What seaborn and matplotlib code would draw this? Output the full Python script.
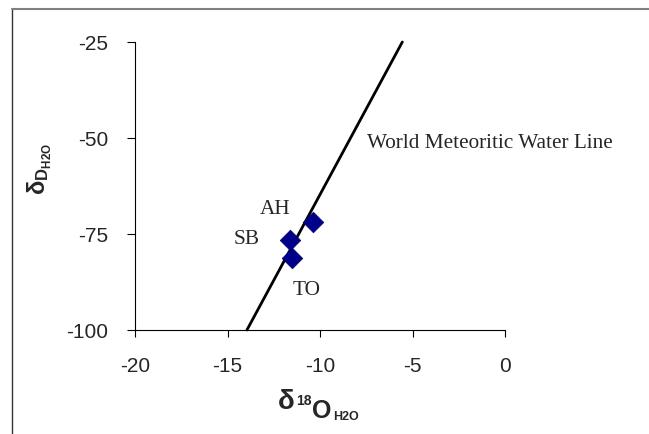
import matplotlib
matplotlib.use("Agg")
import matplotlib.pyplot as plt
import seaborn as sns
import pandas as pd
from matplotlib.lines import Line2D

sites = ["AH", "SB", "TO"]
d18O = [-10.38, -11.62, -11.51]
dD = [-71.9, -76.6, -81.3]
wmwl_x = [-13.95, -5.55]
wmwl_y = [-100, -25]
xticks = [-20, -15, -10, -5, 0]
yticks = [-100, -75, -50, -25]

sns.set_theme(style="white")
plt.rcParams['font.family'] = ['Liberation Sans', 'DejaVu Sans']
plt.rcParams['mathtext.fontset'] = 'custom'
plt.rcParams['mathtext.rm'] = 'Liberation Sans'
plt.rcParams['mathtext.bf'] = 'Liberation Sans:bold'
plt.rcParams['mathtext.it'] = 'Liberation Sans:italic'

fig = plt.figure(figsize=(6.49, 4.35), dpi=100)
W, H = 649, 435
ax = fig.add_axes([135 / W, 1 - 331 / H, (505 - 135) / W, (331 - 43) / H])

df = pd.DataFrame({"x": d18O, "y": dD, "site": sites})
line_df = pd.DataFrame({"x": wmwl_x, "y": wmwl_y})
sns.lineplot(data=line_df, x="x", y="y", ax=ax, color="black", linewidth=2, clip_on=False)
sns.scatterplot(data=df, x="x", y="y", ax=ax, marker="D", s=110, color="#00008B",
                edgecolor="#000066", linewidth=0.5, zorder=3)

ax.set_xlim(-20, 0)
ax.set_ylim(-100, -25)
ax.set_xticks(xticks)
ax.set_yticks(yticks)
ax.set_xticklabels([str(v) for v in xticks], fontsize=15)
ax.set_yticklabels([str(v) for v in yticks], fontsize=15)
for s in ["top", "right"]:
    ax.spines[s].set_visible(False)
for s in ["left", "bottom"]:
    ax.spines[s].set_color("black")
    ax.spines[s].set_linewidth(0.8)
ax.tick_params(axis="x", direction="out", length=5, width=0.8, color="black",
               bottom=True, pad=13.5)
ax.tick_params(axis="y", direction="out", length=6, width=0.8, color="black",
               left=True, pad=13)
ax.set_xlabel("")
ax.set_ylabel("")

serif = ['Liberation Serif', 'DejaVu Serif']
fs = 15.3
ax.text(-12.45, -68.4, "AH", family=serif, fontsize=fs, ha="center", va="center")
ax.text(-13.95, -76.2, "SB", family=serif, fontsize=fs, ha="center", va="center")
ax.text(-10.7, -89.5, "TO", family=serif, fontsize=fs, ha="center", va="center")
ax.text(-7.45, -51.3, "World Meteoritic Water Line", family=serif, fontsize=fs,
        ha="left", va="center")

# x-axis label built from pieces
def ptext(x, y, s, size, **kw):
    fig.text(x / W, 1 - y / H, s, fontsize=size, fontweight="bold",
             ha="left", va="baseline", **kw)

ptext(278, 409, "δ", 20)
ptext(296, 405, "18", 10)
ptext(312, 418, "O", 18)
ptext(333, 420, "H2O", 9)

fig.text(40 / W, 1 - 169 / H, r"$\mathbf{\delta_{D_{H2O}}}$", rotation=90,
         ha="center", va="center", fontsize=17, fontweight="bold")

fig.add_artist(Line2D([12 / W, 12 / W], [0, 1 - 10 / H], transform=fig.transFigure,
                      color="#333333", linewidth=1))
fig.add_artist(Line2D([12 / W, 1], [1 - 10 / H, 1 - 10 / H], transform=fig.transFigure,
                      color="#808080", linewidth=1.5))

fig.savefig("out.png", dpi=100)
